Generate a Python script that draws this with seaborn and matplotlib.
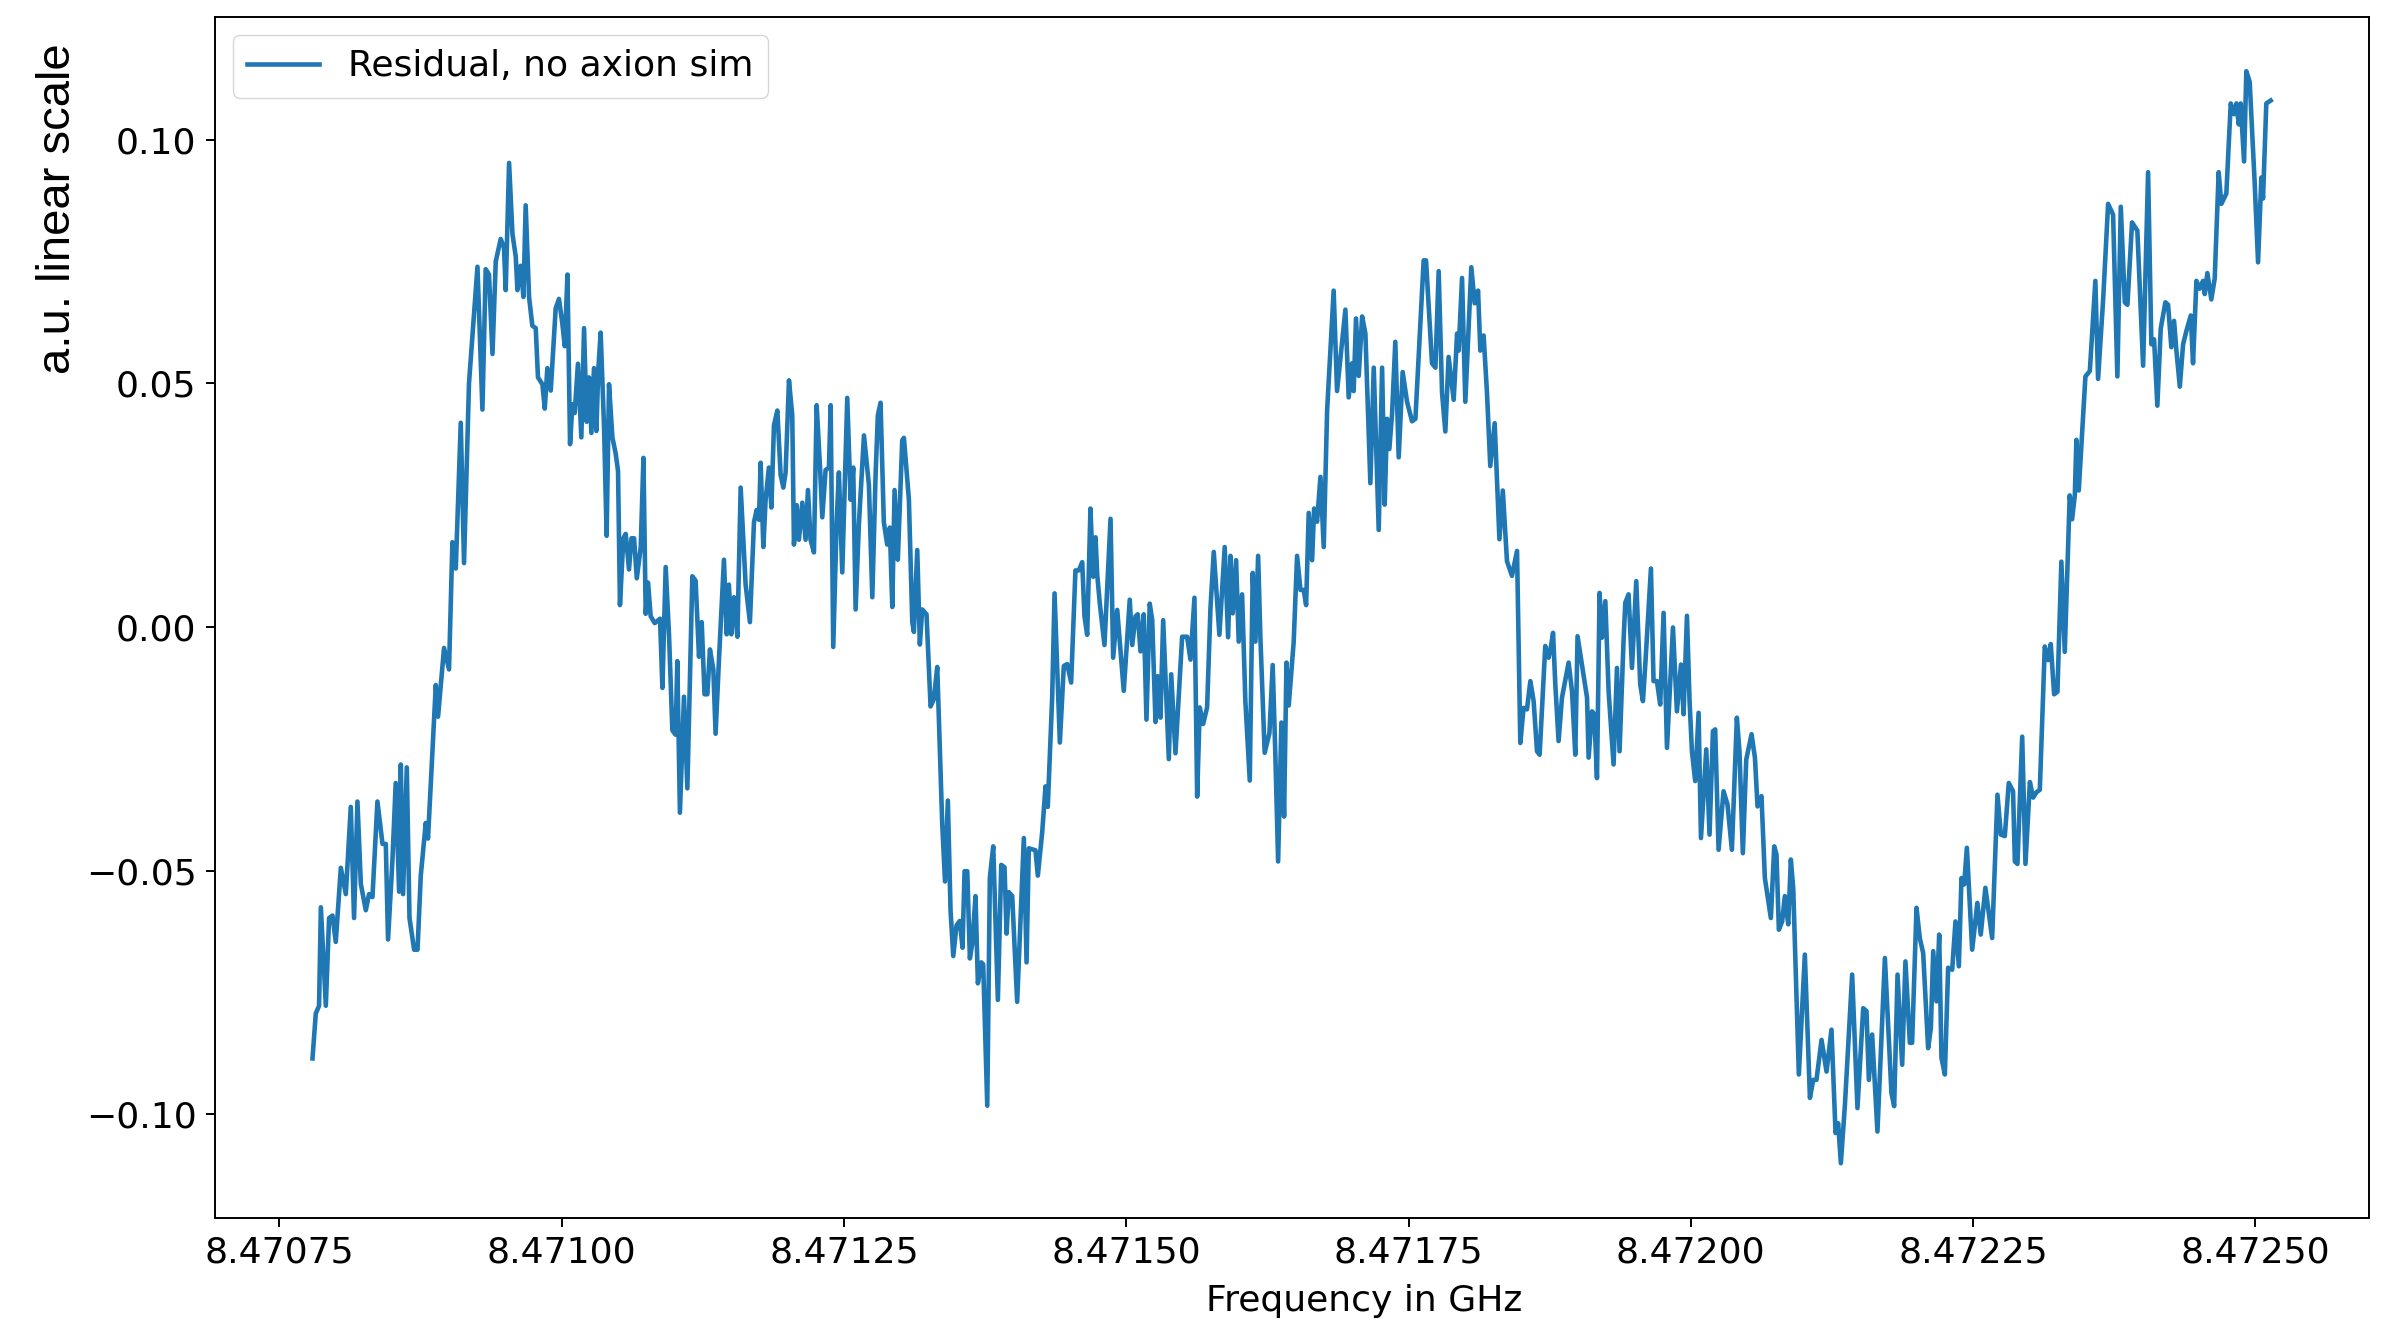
import numpy as np
import matplotlib
matplotlib.use("Agg")
import matplotlib.pyplot as plt
from matplotlib.ticker import MultipleLocator
import seaborn as sns

# ---------------- data ----------------
freq_seg1 = [8.4707793, 8.4707822, 8.4707851, 8.4707867, 8.4707911, 8.4707940, 8.4707970, 8.4707999, 8.4708044, 8.4708088,
             8.4708132, 8.4708161, 8.4708191, 8.4708221, 8.4708265, 8.4708294, 8.4708324, 8.4708368, 8.4708413, 8.4708442,
             8.4708462, 8.4708501, 8.4708530, 8.4708560, 8.4708575, 8.4708595, 8.4708628, 8.4708652, 8.4708693, 8.4708723,
             8.4708752, 8.4708796, 8.4708816, 8.4708885, 8.4708905, 8.4708958, 8.4709002, 8.4709032, 8.4709062, 8.4709106,
             8.4709135, 8.4709179, 8.4709224, 8.4709254, 8.4709298, 8.4709327, 8.4709356, 8.4709387, 8.4709416]
res_seg1 = [-0.0885, -0.0793, -0.0777, -0.0575, -0.0777, -0.0597, -0.0592, -0.0646, -0.0494, -0.0548,
            -0.0369, -0.0597, -0.0358, -0.0527, -0.0581, -0.0548, -0.0554, -0.0358, -0.0445, -0.0445,
            -0.0641, -0.0478, -0.0320, -0.0543, -0.0282, -0.0548, -0.0288, -0.0597, -0.0662, -0.0662,
            -0.0510, -0.0402, -0.0434, -0.0119, -0.0184, -0.0043, -0.0087, 0.0174, 0.0120, 0.0419,
            0.0131, 0.0500, 0.0642, 0.0739, 0.0446, 0.0734, 0.0723, 0.0560, 0.0750]

freq_seg2 = [8.4709460, 8.4709489, 8.4709504, 8.4709534, 8.4709564, 8.4709593, 8.4709608, 8.4709637, 8.4709661, 8.4709681,
             8.4709711, 8.4709740, 8.4709770, 8.4709790, 8.4709829, 8.4709850, 8.4709873, 8.4709903, 8.4709947, 8.4709976,
             8.4710006, 8.4710027, 8.4710051, 8.4710074, 8.4710095, 8.4710115, 8.4710144, 8.4710174, 8.4710198, 8.4710221,
             8.4710242, 8.4710263, 8.4710286, 8.4710307, 8.4710325, 8.4710345, 8.4710375, 8.4710398, 8.4710419, 8.4710449,
             8.4710478, 8.4710499, 8.4710516, 8.4710546, 8.4710567, 8.4710596, 8.4710618, 8.4710641, 8.4710665, 8.4710700,
             8.4710724, 8.4710744, 8.4710765, 8.4710788, 8.4710824, 8.4710871, 8.4710892, 8.4710921, 8.4710951, 8.4710980,
             8.4711009, 8.4711024, 8.4711047, 8.4711083, 8.4711113, 8.4711157, 8.4711186, 8.4711216, 8.4711240, 8.4711265]
res_seg2 = [0.0796, 0.0778, 0.0691, 0.0952, 0.0806, 0.0760, 0.0691, 0.0741, 0.0677, 0.0865,
            0.0677, 0.0618, 0.0613, 0.0512, 0.0498, 0.0448, 0.0531, 0.0485, 0.0654, 0.0673,
            0.0622, 0.0576, 0.0723, 0.0375, 0.0457, 0.0439, 0.0540, 0.0389, 0.0613, 0.0421,
            0.0512, 0.0398, 0.0531, 0.0402, 0.0531, 0.0604, 0.0411, 0.0187, 0.0498, 0.0389,
            0.0356, 0.0320, 0.0045, 0.0182, 0.0191, 0.0118, 0.0182, 0.0182, 0.0100, 0.0164,
            0.0347, 0.0027, 0.0091, 0.0022, 0.0008, 0.0017, -0.0125, 0.0123, -0.0019, -0.0212,
            -0.0221, -0.0070, -0.0381, -0.0143, -0.0331, 0.0104, 0.0095, -0.0061, 0.0010, -0.0138]

freq_seg3 = [8.4711290, 8.4711313, 8.4711343, 8.4711363, 8.4711393, 8.4711437, 8.4711461, 8.4711481, 8.4711502, 8.4711526,
             8.4711556, 8.4711585, 8.4711629, 8.4711667, 8.4711703, 8.4711726, 8.4711747, 8.4711762, 8.4711786, 8.4711806,
             8.4711835, 8.4711857, 8.4711880, 8.4711910, 8.4711939, 8.4711963, 8.4711983, 8.4712013, 8.4712042, 8.4712057,
             8.4712081, 8.4712101, 8.4712131, 8.4712160, 8.4712181, 8.4712204, 8.4712234, 8.4712258, 8.4712287, 8.4712308,
             8.4712337, 8.4712367, 8.4712382, 8.4712405, 8.4712435, 8.4712455, 8.4712485, 8.4712529, 8.4712559, 8.4712582,
             8.4712603, 8.4712632, 8.4712677, 8.4712721, 8.4712751, 8.4712780, 8.4712800, 8.4712824, 8.4712853, 8.4712883,
             8.4712906, 8.4712928, 8.4712948, 8.4712977, 8.4713016, 8.4713031, 8.4713075, 8.4713105, 8.4713119, 8.4713149,
             8.4713172, 8.4713193, 8.4713231, 8.4713267, 8.4713296, 8.4713326, 8.4713349, 8.4713370]
res_seg3 = [-0.0138, -0.0046, -0.0087, -0.0219, -0.0066, 0.0138, -0.0015, 0.0087, -0.0015, 0.0061,
            -0.0020, 0.0286, 0.0087, 0.0010, 0.0215, 0.0240, 0.0220, 0.0337, 0.0164, 0.0261,
            0.0327, 0.0245, 0.0414, 0.0444, 0.0312, 0.0286, 0.0317, 0.0506, 0.0434, 0.0169,
            0.0250, 0.0179, 0.0255, 0.0179, 0.0281, 0.0179, 0.0153, 0.0455, 0.0332, 0.0225,
            0.0322, 0.0327, 0.0455, -0.0041, 0.0215, 0.0317, 0.0112, 0.0470, 0.0261, 0.0327,
            0.0036, 0.0210, 0.0393, 0.0291, 0.0061, 0.0312, 0.0434, 0.0460, 0.0215, 0.0169,
            0.0204, 0.0041, 0.0281, 0.0138, 0.0383, 0.0388, 0.0261, 0.0010, -0.0010, 0.0158,
            -0.0036, 0.0036, 0.0026, -0.0163, -0.0148, -0.0082, -0.0250, -0.0403]

freq_seg4 = [8.4713395, 8.4713420, 8.4713444, 8.4713468, 8.4713497, 8.4713526, 8.4713550, 8.4713568, 8.4713592, 8.4713615,
             8.4713636, 8.4713665, 8.4713686, 8.4713716, 8.4713733, 8.4713769, 8.4713792, 8.4713822, 8.4713863, 8.4713893,
             8.4713922, 8.4713940, 8.4713960, 8.4713990, 8.4714034, 8.4714093, 8.4714117, 8.4714137, 8.4714196, 8.4714217,
             8.4714256, 8.4714285, 8.4714305, 8.4714344, 8.4714365, 8.4714412, 8.4714447, 8.4714477, 8.4714512, 8.4714550,
             8.4714580, 8.4714610, 8.4714630, 8.4714654, 8.4714683, 8.4714707, 8.4714728, 8.4714743, 8.4714766, 8.4714807,
             8.4714861, 8.4714884, 8.4714920, 8.4714978, 8.4715031, 8.4715053, 8.4715082, 8.4715102, 8.4715126, 8.4715155,
             8.4715179, 8.4715208, 8.4715230, 8.4715259, 8.4715279, 8.4715303, 8.4715327, 8.4715377, 8.4715398, 8.4715436,
             8.4715495, 8.4715539, 8.4715569, 8.4715604, 8.4715628, 8.4715651, 8.4715681, 8.4715716, 8.4715746, 8.4715775]
res_seg4 = [-0.0522, -0.0356, -0.0582, -0.0675, -0.0612, -0.0603, -0.0658, -0.0501, -0.0501, -0.0680,
            -0.0650, -0.0552, -0.0731, -0.0688, -0.0692, -0.0982, -0.0514, -0.0450, -0.0765, -0.0488,
            -0.0493, -0.0629, -0.0544, -0.0552, -0.0769, -0.0433, -0.0688, -0.0454, -0.0458, -0.0510,
            -0.0420, -0.0327, -0.0369, -0.0144, 0.0069, -0.0237, -0.0080, -0.0076, -0.0114, 0.0116,
            0.0116, 0.0133, 0.0022, -0.0016, 0.0243, 0.0103, 0.0184, 0.0107, 0.0048, -0.0037,
            0.0222, -0.0063, 0.0035, -0.0131, 0.0056, -0.0037, 0.0022, 0.0026, -0.0050, 0.0026,
            -0.0190, 0.0048, 0.0014, -0.0195, -0.0101, -0.0186, 0.0014, -0.0271, -0.0097, -0.0259,
            -0.0020, -0.0020, -0.0067, 0.0060, -0.0348, -0.0165, -0.0199, -0.0165, 0.0039, 0.0154]

freq_seg5 = [8.4715825, 8.4715872, 8.4715902, 8.4715923, 8.4715943, 8.4715973, 8.4715996, 8.4716026, 8.4716055, 8.4716094,
             8.4716120, 8.4716144, 8.4716168, 8.4716188, 8.4716226, 8.4716268, 8.4716297, 8.4716321, 8.4716345, 8.4716374,
             8.4716398, 8.4716419, 8.4716439, 8.4716483, 8.4716513, 8.4716543, 8.4716572, 8.4716593, 8.4716616, 8.4716646,
             8.4716664, 8.4716690, 8.4716720, 8.4716749, 8.4716779, 8.4716837, 8.4716867, 8.4716896, 8.4716941, 8.4716970,
             8.4717000, 8.4717014, 8.4717035, 8.4717059, 8.4717089, 8.4717118, 8.4717162, 8.4717192, 8.4717236, 8.4717266,
             8.4717289, 8.4717310, 8.4717330, 8.4717354, 8.4717383, 8.4717413, 8.4717448, 8.4717487, 8.4717531, 8.4717561,
             8.4717634, 8.4717655, 8.4717708, 8.4717738, 8.4717767, 8.4717797, 8.4717826, 8.4717855, 8.4717900, 8.4717930,
             8.4717944, 8.4717974, 8.4718003, 8.4718056, 8.4718086, 8.4718116, 8.4718136, 8.4718165, 8.4718195, 8.4718224,
             8.4718263, 8.4718305, 8.4718335]
res_seg5 = [-0.0016, 0.0164, -0.0021, 0.0146, 0.0028, 0.0137, -0.0030, 0.0067, -0.0152, -0.0315,
            0.0111, -0.0030, 0.0146, -0.0021, -0.0258, -0.0218, -0.0078, -0.0266, -0.0481, -0.0196,
            -0.0389, -0.0073, -0.0161, -0.0030, 0.0146, 0.0076, 0.0076, 0.0045, 0.0234, 0.0137,
            0.0243, 0.0216, 0.0308, 0.0164, 0.0444, 0.0690, 0.0484, 0.0550, 0.0651, 0.0471,
            0.0541, 0.0484, 0.0633, 0.0515, 0.0637, 0.0602, 0.0295, 0.0532, 0.0199, 0.0532,
            0.0251, 0.0427, 0.0365, 0.0436, 0.0585, 0.0348, 0.0523, 0.0462, 0.0422, 0.0427,
            0.0752, 0.0752, 0.0541, 0.0532, 0.0730, 0.0480, 0.0401, 0.0554, 0.0466, 0.0602,
            0.0567, 0.0716, 0.0462, 0.0738, 0.0664, 0.0690, 0.0567, 0.0598, 0.0480, 0.0330,
            0.0418, 0.0180, 0.0280]

freq_seg6 = [8.4718372, 8.4718416, 8.4718461, 8.4718490, 8.4718519, 8.4718549, 8.4718579, 8.4718608, 8.4718638, 8.4718661,
             8.4718711, 8.4718741, 8.4718762, 8.4718780, 8.4718800, 8.4718829, 8.4718859, 8.4718918, 8.4718948, 8.4718977,
             8.4718997, 8.4719036, 8.4719081, 8.4719095, 8.4719125, 8.4719145, 8.4719169, 8.4719192, 8.4719213, 8.4719243,
             8.4719272, 8.4719316, 8.4719346, 8.4719369, 8.4719405, 8.4719420, 8.4719449, 8.4719479, 8.4719517, 8.4719552,
             8.4719576, 8.4719597, 8.4719647, 8.4719670, 8.4719700, 8.4719729, 8.4719759, 8.4719789, 8.4719842, 8.4719877,
             8.4719913, 8.4719936, 8.4719966, 8.4719989, 8.4720010, 8.4720039, 8.4720069, 8.4720090, 8.4720137, 8.4720166,
             8.4720196, 8.4720216, 8.4720246, 8.4720290, 8.4720325, 8.4720364, 8.4720408, 8.4720431, 8.4720461, 8.4720491]
res_seg6 = [0.0135, 0.0105, 0.0156, -0.0238, -0.0166, -0.0169, -0.0111, -0.0152, -0.0255, -0.0262,
            -0.0039, -0.0063, -0.0039, -0.0012, -0.0118, -0.0234, -0.0145, -0.0073, -0.0132, -0.0262,
            -0.0019, -0.0077, -0.0145, -0.0268, -0.0173, -0.0179, -0.0310, 0.0070, -0.0022, 0.0053,
            -0.0132, -0.0282, -0.0084, -0.0255, -0.0025, 0.0050, 0.0067, -0.0084, 0.0094, -0.0118,
            -0.0152, -0.0077, 0.0120, -0.0111, -0.0111, -0.0159, 0.0029, -0.0248, -0.0001, -0.0173,
            -0.0077, -0.0179, 0.0023, -0.0152, -0.0255, -0.0316, -0.0176, -0.0433, -0.0251, -0.0426,
            -0.0214, -0.0210, -0.0457, -0.0337, -0.0364, -0.0457, -0.0186, -0.0255, -0.0464, -0.0272]

freq_seg7 = [8.4720538, 8.4720568, 8.4720591, 8.4720626, 8.4720656, 8.4720709, 8.4720739, 8.4720759, 8.4720780, 8.4720809,
             8.4720833, 8.4720863, 8.4720886, 8.4720907, 8.4720957, 8.4721010, 8.4721055, 8.4721084, 8.4721113, 8.4721158,
             8.4721202, 8.4721246, 8.4721282, 8.4721305, 8.4721329, 8.4721365, 8.4721429, 8.4721476, 8.4721527, 8.4721556,
             8.4721577, 8.4721606, 8.4721653, 8.4721719, 8.4721777, 8.4721801, 8.4721831, 8.4721872, 8.4721901, 8.4721940,
             8.4721960, 8.4721999, 8.4722028, 8.4722058, 8.4722102, 8.4722126, 8.4722147, 8.4722176, 8.4722200, 8.4722220,
             8.4722250, 8.4722279, 8.4722315, 8.4722344, 8.4722374, 8.4722397, 8.4722421, 8.4722445, 8.4722492, 8.4722538,
             8.4722568, 8.4722609, 8.4722669, 8.4722716, 8.4722746, 8.4722781, 8.4722816, 8.4722854]
res_seg7 = [-0.0220, -0.0268, -0.0368, -0.0347, -0.0515, -0.0597, -0.0450, -0.0467, -0.0621, -0.0604,
            -0.0552, -0.0610, -0.0477, -0.0535, -0.0918, -0.0672, -0.0966, -0.0929, -0.0929, -0.0847,
            -0.0912, -0.0826, -0.1038, -0.1018, -0.1100, -0.0980, -0.0713, -0.0987, -0.0782, -0.0788,
            -0.0929, -0.0836, -0.1035, -0.0679, -0.0956, -0.0983, -0.0713, -0.0898, -0.0686, -0.0853,
            -0.0853, -0.0576, -0.0638, -0.0669, -0.0864, -0.0823, -0.0665, -0.0768, -0.0631, -0.0884,
            -0.0918, -0.0699, -0.0703, -0.0604, -0.0696, -0.0515, -0.0528, -0.0453, -0.0662, -0.0566,
            -0.0631, -0.0535, -0.0638, -0.0344, -0.0426, -0.0429, -0.0320, -0.0337]

freq_seg8 = [8.4722870, 8.4722893, 8.4722935, 8.4722964, 8.4723003, 8.4723032, 8.4723061, 8.4723091, 8.4723135, 8.4723164,
             8.4723188, 8.4723218, 8.4723247, 8.4723282, 8.4723312, 8.4723356, 8.4723377, 8.4723401, 8.4723415, 8.4723436,
             8.4723495, 8.4723534, 8.4723583, 8.4723607, 8.4723652, 8.4723696, 8.4723740, 8.4723778, 8.4723808, 8.4723844,
             8.4723867, 8.4723908, 8.4723955, 8.4724006, 8.4724050, 8.4724079, 8.4724103, 8.4724132, 8.4724162, 8.4724203,
             8.4724227, 8.4724256, 8.4724280, 8.4724300, 8.4724331, 8.4724360, 8.4724389, 8.4724428, 8.4724448, 8.4724478,
             8.4724507, 8.4724537, 8.4724552, 8.4724575, 8.4724610, 8.4724640, 8.4724675, 8.4724699, 8.4724743, 8.4724782,
             8.4724811, 8.4724832, 8.4724853, 8.4724870, 8.4724900, 8.4724920, 8.4724950, 8.4724994, 8.4725024, 8.4725053,
             8.4725068, 8.4725097, 8.4725136]
res_seg8 = [-0.0481, -0.0486, -0.0225, -0.0486, -0.0318, -0.0350, -0.0339, -0.0334, -0.0040, -0.0068,
            -0.0035, -0.0138, -0.0133, 0.0134, -0.0051, 0.0270, 0.0221, 0.0270, 0.0384, 0.0280,
            0.0514, 0.0525, 0.0710, 0.0509, 0.0672, 0.0868, 0.0846, 0.0514, 0.0862, 0.0666,
            0.0661, 0.0830, 0.0813, 0.0536, 0.0933, 0.0580, 0.0590, 0.0454, 0.0612, 0.0666,
            0.0661, 0.0574, 0.0628, 0.0569, 0.0493, 0.0580, 0.0607, 0.0639, 0.0541, 0.0710,
            0.0694, 0.0710, 0.0683, 0.0726, 0.0672, 0.0715, 0.0933, 0.0868, 0.0889, 0.1074,
            0.1052, 0.1074, 0.1031, 0.1074, 0.0955, 0.1140, 0.1118, 0.0911, 0.0748, 0.0922,
            0.0879, 0.1074, 0.1080]

legend_label = "Residual, no axion sim"
x_label = "Frequency in GHz"
y_label = "a.u. linear scale"

# ---------------- assemble ----------------
freq_parts = [freq_seg1, freq_seg2, freq_seg3, freq_seg4, freq_seg5, freq_seg6, freq_seg7, freq_seg8]
res_parts = [res_seg1, res_seg2, res_seg3, res_seg4, res_seg5, res_seg6, res_seg7, res_seg8]
for i, (f, r) in enumerate(zip(freq_parts, res_parts)):
    assert len(f) == len(r), f"segment {i+1}: {len(f)} vs {len(r)}"
frequency = np.concatenate(freq_parts)
residual = np.concatenate(res_parts)

# ---------------- figure ----------------
plt.rcParams.update({
    "font.family": ["DejaVu Sans"],
    "font.size": 26,
    "axes.linewidth": 1.4,
    "xtick.major.size": 6.5,
    "ytick.major.size": 6.5,
    "xtick.major.width": 1.4,
    "ytick.major.width": 1.4,
    "xtick.major.pad": 6.5,
    "ytick.major.pad": 6.5,
})

fig = plt.figure(figsize=(23.87, 13.23), dpi=100)
ax = fig.add_axes([0.0899, 0.0795, 0.9024, 0.9079])

sns.lineplot(x=frequency, y=residual, ax=ax, color="#1f77b4", linewidth=3.3,
             label=legend_label, sort=False, estimator=None)

ax.xaxis.set_major_locator(MultipleLocator(0.00025))
ax.yaxis.set_major_locator(MultipleLocator(0.05))
ax.ticklabel_format(axis="x", useOffset=False)
ax.tick_params(labelsize=26)

ax.set_xlabel(x_label, fontsize=26)
ax.xaxis.set_label_coords(0.5336, -0.0555)
ax.set_ylabel(y_label, fontsize=34, family=["Liberation Sans", "DejaVu Sans"], va="center")
ax.yaxis.set_label_coords(-0.0727, 0.840)

ax.legend(loc="upper left", fontsize=26, frameon=True, framealpha=0.8, edgecolor="0.8")

fig.savefig("out.png", dpi=100)
